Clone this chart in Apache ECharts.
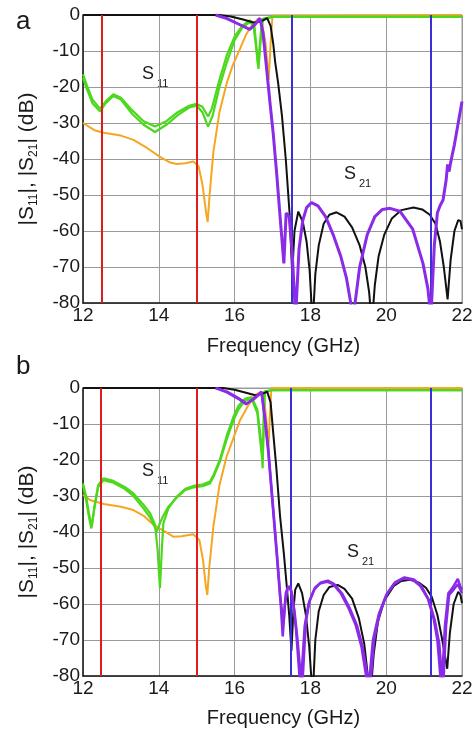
<!DOCTYPE html>
<html><head><meta charset="utf-8">
<script src="https://cdn.jsdelivr.net/npm/echarts@6.0.0/dist/echarts.min.js"></script>
<style>html,body{margin:0;padding:0;background:#fff}#c{width:476px;height:731px}</style>
</head><body><div id="c"></div>
<script>
// ---------- axis ticks ----------
const xTickValues = [12, 14, 16, 18, 20, 22];
const yTickValues = [0, -10, -20, -30, -40, -50, -60, -70, -80];

// ---------- vertical marker lines (GHz) ----------
const aRedLines = [12.5, 15.0];
const aBlueLines = [17.5, 21.17];
const bRedLines = [12.48, 15.0];
const bBlueLines = [17.48, 21.17];

// ---------- panel a ----------
const aS21BlackF = [12, 15.6, 15.9, 16.2, 16.5, 16.7, 16.86, 16.95, 17.02, 17.07, 17.15, 17.25, 17.35, 17.45, 17.52, 17.58, 17.68, 17.8, 17.9, 17.98, 18.06, 18.13, 18.22, 18.35, 18.5, 18.69, 18.9, 19.1, 19.3, 19.45, 19.55, 19.62, 19.7, 19.8, 19.95, 20.15, 20.4, 20.72, 20.95, 21.15, 21.3, 21.42, 21.52, 21.62, 21.7, 21.8, 21.9, 21.96, 22];
const aS21BlackDb = [0, 0, -0.4, -1.2, -2.1, -1.8, -0.9, -3, -8, -13, -19, -28, -40, -55, -72, -60, -54.6, -57.5, -63, -71, -86, -72, -64, -58, -55.5, -54.8, -56, -59, -64, -70, -77, -86, -75, -67, -61, -56.5, -54.2, -53.5, -54, -55.5, -58, -63, -70, -79, -68, -60, -57, -57.2, -59.5];

const aS21PurpleF = [15.5, 15.8, 16.1, 16.4, 16.55, 16.67, 16.75, 16.84, 16.93, 17.02, 17.11, 17.2, 17.3, 17.36, 17.44, 17.52, 17.61, 17.7, 17.8, 17.9, 18.03, 18.2, 18.4, 18.6, 18.8, 18.95, 19.13, 19.3, 19.5, 19.7, 19.9, 20.1, 20.36, 20.7, 20.97, 21.1, 21.18, 21.27, 21.35, 21.42, 21.5, 21.58, 21.62, 21.66, 21.7, 21.8, 21.9, 22];
const aS21PurpleDb = [0, -1, -2.5, -4, -2.5, -0.9, -5, -14.4, -24, -33, -44, -56, -69, -55, -56, -66, -84, -65, -57, -53.5, -52.1, -53, -56, -61, -67, -73, -84, -70, -61, -56, -54, -53.7, -54.5, -59.5, -69, -76, -84, -64, -55, -53, -51.4, -46, -41.5, -43.5, -41, -36, -30, -24];

const aS11Green1F = [12, 12.1, 12.25, 12.45, 12.6, 12.8, 13.0, 13.3, 13.6, 13.9, 14.2, 14.5, 14.8, 15.0, 15.15, 15.3, 15.4, 15.6, 15.8, 16.0, 16.2, 16.4, 16.52, 16.6, 16.63, 16.68, 16.75, 17.0, 22];
const aS11Green1Db = [-16.5, -19.5, -23.5, -26, -24, -22, -23, -26.5, -29.5, -31, -29.5, -27, -25.2, -24.7, -25.5, -28.2, -26, -18, -11, -6, -3, -1.5, -2.5, -12, -15, -8, -1, -0.5, -0.5];
const aS11Green2F = [12, 12.1, 12.25, 12.45, 12.6, 12.8, 13.0, 13.3, 13.6, 13.9, 14.2, 14.5, 14.8, 15.0, 15.15, 15.3, 15.42, 15.6, 15.8, 16.0, 16.2, 16.4, 16.5, 16.58, 16.62, 16.66, 16.72, 17.0, 22];
const aS11Green2Db = [-17.5, -20.5, -24.5, -26.8, -24.5, -22.5, -23.5, -27.5, -30.5, -32.5, -30.5, -27.8, -25.7, -25.2, -27, -31, -28, -20, -13, -7, -3.5, -2, -3, -10, -14, -9, -1.5, -0.5, -0.5];

const aS11OrangeF = [12, 12.3, 12.55, 13.0, 13.33, 13.7, 14.03, 14.3, 14.47, 14.7, 14.91, 15.05, 15.15, 15.25, 15.29, 15.34, 15.44, 15.6, 15.79, 15.95, 16.14, 16.3, 16.45, 16.62, 16.72, 16.82, 16.9, 16.95, 17.0, 22];
const aS11OrangeDb = [-30, -32, -32.7, -33.5, -34.7, -37, -39.4, -41, -41.4, -41.2, -40.7, -42, -47, -55, -57.5, -50, -38, -27, -19, -14, -9.5, -5.5, -3, -1, -2, -8, -18, -8, -0.2, 0];

// ---------- panel b ----------
const bS21BlackF = [12, 15.7, 16.0, 16.3, 16.55, 16.72, 16.86, 16.95, 17.02, 17.1, 17.2, 17.3, 17.37, 17.44, 17.5, 17.55, 17.6, 17.68, 17.78, 17.88, 17.97, 18.06, 18.13, 18.22, 18.35, 18.5, 18.72, 18.9, 19.1, 19.28, 19.42, 19.58, 19.67, 19.78, 19.95, 20.2, 20.4, 20.63, 20.85, 21.05, 21.2, 21.35, 21.48, 21.61, 21.68, 21.78, 21.9, 21.96, 22];
const bS21BlackDb = [0, 0, -0.5, -1.3, -2, -1.7, -1, -4, -12.6, -22, -35.7, -46, -54.3, -63, -73, -62, -56, -54.3, -57, -63, -72, -86, -70, -62, -57.5, -55.3, -54.7, -55.8, -58.5, -64, -71, -86, -74, -65, -59, -55, -53.6, -53.3, -54, -55.5, -58, -63, -70, -78, -68, -60, -56.6, -57.5, -59.8];

const bS21Purple1F = [15.5, 15.8, 16.1, 16.32, 16.5, 16.71, 16.8, 16.89, 17.0, 17.11, 17.2, 17.27, 17.33, 17.4, 17.47, 17.55, 17.62, 17.74, 17.85, 17.95, 18.1, 18.25, 18.43, 18.6, 18.8, 19.0, 19.2, 19.35, 19.53, 19.65, 19.8, 20.0, 20.2, 20.45, 20.7, 20.9, 21.1, 21.25, 21.35, 21.46, 21.55, 21.64, 21.75, 21.89, 21.95, 22];
const bS21Purple1Db = [0, -1, -2.8, -4.3, -3, -1, -8, -17, -31, -45, -57, -69, -60, -55.5, -55.2, -60, -67, -84, -66, -60, -56, -54.3, -53.8, -54.5, -57, -61, -66, -72, -84, -70, -63, -57.5, -54.5, -52.9, -53.3, -55, -58.5, -64, -70, -84, -66, -57, -55.5, -53, -55, -56];
const bS21Purple2F = [15.5, 15.8, 16.1, 16.3, 16.5, 16.71, 16.8, 16.89, 17.0, 17.11, 17.2, 17.29, 17.35, 17.42, 17.5, 17.58, 17.66, 17.78, 17.88, 17.98, 18.12, 18.28, 18.46, 18.63, 18.83, 19.03, 19.23, 19.38, 19.57, 19.68, 19.83, 20.03, 20.23, 20.48, 20.73, 20.93, 21.13, 21.28, 21.4, 21.5, 21.58, 21.66, 21.78, 21.89, 22];
const bS21Purple2Db = [0, -1.2, -3, -4.5, -3.2, -1.2, -9, -18, -32, -46, -58, -65, -57, -55, -56.5, -62, -70, -84, -65, -59, -55.5, -54, -53.5, -54.5, -57, -61, -66, -72, -84, -70, -62.5, -57, -54, -52.6, -53.2, -55, -59, -64.5, -71, -84, -66, -57.5, -56, -54.5, -57];

const bS11Green1F = [12, 12.08, 12.16, 12.23, 12.3, 12.4, 12.54, 12.8, 13.1, 13.33, 13.6, 13.77, 13.9, 13.97, 14.03, 14.08, 14.12, 14.25, 14.47, 14.7, 14.91, 15.15, 15.35, 15.45, 15.61, 15.8, 15.97, 16.1, 16.27, 16.45, 16.6, 16.7, 16.74, 16.76, 16.78, 17.0, 22];
const bS11Green1Db = [-26.5, -30, -35, -38.5, -33, -27, -25.1, -25.8, -27.5, -29.3, -32.5, -34.8, -38, -45, -55.6, -45, -37.6, -33.5, -30.2, -28, -27.2, -26.8, -26, -24, -20, -13, -8, -5, -3, -2.5, -6, -15, -22.3, -12, -1, -0.6, -0.6];
const bS11Green2F = [12, 12.08, 12.16, 12.22, 12.3, 12.4, 12.54, 12.8, 13.1, 13.33, 13.6, 13.77, 13.95, 14.05, 14.12, 14.25, 14.47, 14.7, 14.91, 15.15, 15.35, 15.45, 15.61, 15.8, 15.97, 16.1, 16.27, 16.45, 16.6, 16.7, 16.74, 16.77, 16.8, 17.0, 22];
const bS11Green2Db = [-27, -31, -36, -39, -33.5, -27.5, -25.6, -26.3, -28, -30, -33.5, -36, -39.8, -37, -35.5, -33, -30.5, -28.3, -27.6, -27.3, -26.5, -24.5, -20.5, -14, -9, -6, -3.5, -3, -7, -17, -20, -10, -1, -0.6, -0.6];

const bS11OrangeF = [12, 12.2, 12.55, 13.0, 13.33, 13.6, 13.86, 14.1, 14.38, 14.6, 14.91, 15.07, 15.17, 15.24, 15.28, 15.33, 15.44, 15.6, 15.79, 15.95, 16.14, 16.35, 16.54, 16.7, 16.78, 16.85, 16.89, 16.93, 16.97, 22];
const bS11OrangeDb = [-29.7, -31.2, -32.2, -33, -33.9, -35.5, -38, -39.5, -41.3, -41.2, -40.6, -42.2, -48, -55, -57.5, -50, -38.5, -27, -19, -14.5, -9, -5, -2, -1, -3, -10, -17.7, -8, 0, 0];

// ---------- styling ----------
const FONT = '"Liberation Sans", Arial, sans-serif';
const C_BLACK = '#111111', C_PURPLE = '#8a2be8', C_GREEN = '#4cd81c', C_ORANGE = '#f5a623';
const C_RED = '#e01b1b', C_BLUE = '#3a2fd6';

const zip = (f, d) => f.map((v, i) => [v, d[i]]);

function makeAxes(gi) {
  const x = {
    type: 'value', gridIndex: gi, min: xTickValues[0], max: xTickValues[xTickValues.length - 1], interval: 2,
    axisLine: { show: true, onZero: false, lineStyle: { color: '#1a1a1a', width: 1.5 } },
    axisTick: { show: false },
    axisLabel: { fontFamily: FONT, fontSize: 19, color: '#1a1a1a', margin: 3 },
    splitLine: { show: true, lineStyle: { color: '#9a9a9a', width: 1 } },
    name: 'Frequency (GHz)', nameLocation: 'middle', nameGap: gi === 0 ? 33 : 32,
    nameTextStyle: { fontFamily: FONT, fontSize: 20, color: '#1a1a1a', padding: [0, 0, 0, 22] }
  };
  const y = {
    type: 'value', gridIndex: gi, min: -80, max: 0, interval: 10,
    axisLine: { show: true, onZero: false, lineStyle: { color: '#1a1a1a', width: 1.5 } },
    axisTick: { show: false },
    axisLabel: { fontFamily: FONT, fontSize: 19, color: '#1a1a1a', margin: 3 },
    splitLine: { show: true, lineStyle: { color: '#9a9a9a', width: 1 } },
    name: '|S{s|11}|, |S{s|21}| (dB)', nameLocation: 'middle', nameGap: 43, nameRotate: 90,
    nameTextStyle: { fontFamily: FONT, fontSize: 21, color: '#1a1a1a', lineHeight: 26,
      rich: { s: { fontFamily: FONT, fontSize: 12, lineHeight: 12, verticalAlign: 'bottom', color: '#1a1a1a' } } }
  };
  return [x, y];
}

function lineSeries(gi, f, d, color, width, z) {
  return { type: 'line', xAxisIndex: gi, yAxisIndex: gi, data: zip(f, d), showSymbol: false, symbol: 'none',
    smooth: false, clip: true, z: z, lineStyle: { color: color, width: width }, itemStyle: { color: color }, silent: true };
}

function markerSeries(gi, reds, blues) {
  return { type: 'line', xAxisIndex: gi, yAxisIndex: gi, data: [], z: 3, silent: true,
    markLine: { silent: true, symbol: ['none', 'none'], label: { show: false }, animation: false,
      data: reds.map(v => ({ xAxis: v, lineStyle: { color: C_RED, width: 2, type: 'solid' } }))
        .concat(blues.map(v => ({ xAxis: v, lineStyle: { color: C_BLUE, width: 2, type: 'solid' } }))) } };
}

const [xa, ya] = makeAxes(0);
const [xb, yb] = makeAxes(1);

function subLabel(x, y, main, sub) {
  return [
    { type: 'text', left: x, top: y, style: { text: main, fontFamily: FONT, fontSize: 18, fill: '#1a1a1a' } },
    { type: 'text', left: x + 15, top: y + 13, style: { text: sub, fontFamily: FONT, fontSize: 11, fill: '#1a1a1a' } }
  ];
}

const option = {
  animation: false,
  backgroundColor: '#ffffff',
  grid: [
    { left: 83, top: 15, width: 379, height: 288, show: true, borderColor: '#9a9a9a', borderWidth: 1 },
    { left: 83, top: 388, width: 379, height: 288, show: true, borderColor: '#9a9a9a', borderWidth: 1 }
  ],
  xAxis: [xa, xb],
  yAxis: [ya, yb],
  graphic: [
    { type: 'text', left: 16, top: 9, style: { text: 'a', fontFamily: FONT, fontSize: 26, fill: '#1a1a1a' } },
    { type: 'text', left: 16, top: 354, style: { text: 'b', fontFamily: FONT, fontSize: 26, fill: '#1a1a1a' } }
  ].concat(subLabel(142, 65, 'S', '11'), subLabel(344, 165, 'S', '21'),
           subLabel(142, 462, 'S', '11'), subLabel(347, 543, 'S', '21')),
  series: [
    lineSeries(0, aS11OrangeF, aS11OrangeDb, C_ORANGE, 2, 2),
    lineSeries(0, aS11Green2F, aS11Green2Db, C_GREEN, 2.2, 2),
    lineSeries(0, aS11Green1F, aS11Green1Db, C_GREEN, 2.2, 2),
    markerSeries(0, aRedLines, aBlueLines),
    lineSeries(0, aS21BlackF, aS21BlackDb, C_BLACK, 2, 4),
    lineSeries(0, aS21PurpleF, aS21PurpleDb, C_PURPLE, 3, 5),

    lineSeries(1, bS11OrangeF, bS11OrangeDb, C_ORANGE, 2, 2),
    lineSeries(1, bS11Green2F, bS11Green2Db, C_GREEN, 2.2, 2),
    lineSeries(1, bS11Green1F, bS11Green1Db, C_GREEN, 2.2, 2),
    markerSeries(1, bRedLines, bBlueLines),
    lineSeries(1, bS21BlackF, bS21BlackDb, C_BLACK, 2, 4),
    lineSeries(1, bS21Purple2F, bS21Purple2Db, C_PURPLE, 2.5, 5),
    lineSeries(1, bS21Purple1F, bS21Purple1Db, C_PURPLE, 2.5, 5)
  ]
};

const chart = echarts.init(document.getElementById('c'), null, { renderer: 'canvas' });
chart.setOption(option);
</script>
</body></html>
